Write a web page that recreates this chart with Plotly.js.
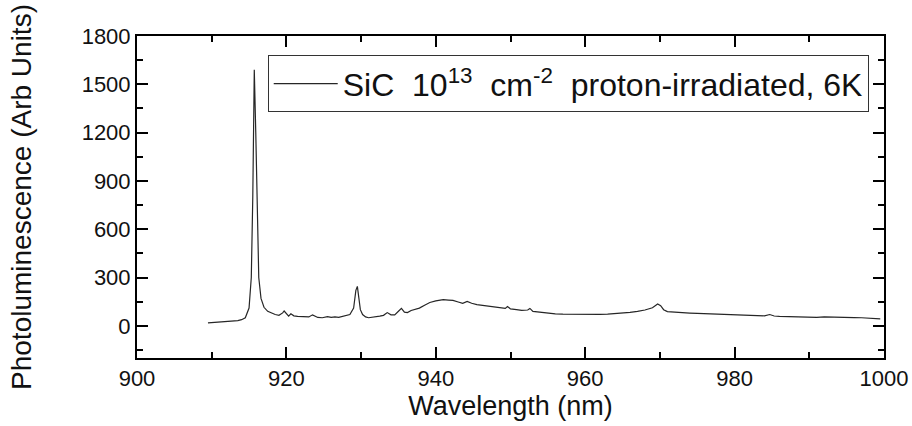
<!DOCTYPE html>
<html>
<head>
<meta charset="utf-8">
<script src="https://cdn.plot.ly/plotly-3.0.1.min.js"></script>
<style>html,body{margin:0;padding:0;background:#fff;}#chart{width:912px;height:426px;}</style>
</head>
<body>
<div id="chart"></div>
<script>
const wavelength = [
909.5,910,910.5,911,911.5,912,912.5,913,913.5,914,914.5,915,915.3,915.5,915.7,915.9,916.1,916.3,916.6,917,917.5,918,918.5,919,919.5,919.7,920,920.3,920.6,921,921.5,922,922.5,923,923.5,923.8,924.2,924.8,925.5,926,926.5,927,927.5,928,928.5,929,929.3,929.5,929.7,929.9,930.2,930.6,931,931.5,932,932.5,933,933.5,934,934.5,935,935.4,935.8,936.2,936.7,937.2,937.8,938.5,939.2,940,940.5,941,941.7,942.3,943,943.6,944.2,944.8,945.5,946.5,947.5,948.5,949.3,949.6,950,950.8,951.5,952.3,952.6,953,954,955,956,957,958,959,960,961,962,963,964,965,966,967,968,969,969.7,970.1,970.5,971,972,973,974,975,976,977,978,979,980,981,982,983,984,984.7,985.3,986,987,988,989,990,991,992,993,994,995,996,997,998,999,999.5
];
const intensity = [
18,20,22,21,24,25,26,28,32,38,50,110,300,800,1590,1200,600,300,170,115,90,78,70,65,80,92,72,60,75,62,58,57,52,55,68,60,52,50,57,52,55,53,58,62,70,110,220,245,180,100,70,55,50,52,55,60,65,82,68,68,90,108,85,82,95,102,110,128,145,155,160,162,160,158,148,140,152,140,132,126,120,113,108,120,105,100,96,98,108,90,84,76,74,72,71,70,69,70,71,73,76,80,84,90,98,112,135,125,100,88,84,82,79,77,75,74,72,70,68,66,65,63,62,70,61,58,56,55,56,53,52,55,53,52,52,51,50,48,45,43
];
const xTicks = [900,920,940,960,980,1000];
const yTicks = [0,300,600,900,1200,1500,1800];
const NB = '\u00A0';
const seriesName = 'SiC' + NB + ' 10<sup>13</sup>' + NB + ' cm<sup>-2</sup>' + NB + ' proton-irradiated, 6K';

const font = 'Arial, "Liberation Sans", sans-serif';
const trace = {
  x: wavelength, y: intensity, type: 'scatter', mode: 'lines',
  name: seriesName, line: {color: '#262626', width: 1.2}
};
const axisCommon = {
  showline: true, linecolor: '#000', linewidth: 2, mirror: 'ticks',
  ticks: 'inside', ticklen: 11, tickwidth: 2, tickcolor: '#000',
  showgrid: false, zeroline: false,
  tickfont: {family: font, size: 22, color: '#111'}
};
const layout = {
  width: 912, height: 426,
  margin: {l: 137, r: 28, t: 36, b: 68},
  paper_bgcolor: '#fff', plot_bgcolor: '#fff',
  font: {family: font, color: '#111'},
  showlegend: true,
  legend: {
    x: 0.175, y: 0.94, xanchor: 'left', yanchor: 'top',
    bgcolor: '#fff', bordercolor: '#333', borderwidth: 1,
    font: {family: font, size: 32, color: '#111'}, itemwidth: 64
  },
  xaxis: Object.assign({}, axisCommon, {
    range: [900, 1000], tickvals: xTicks, ticktext: xTicks.map(String),
    minor: {dtick: 10, ticks: 'inside', ticklen: 6, tickwidth: 2, tickcolor: '#000', showgrid: false},
    title: {text: 'Wavelength (nm)', font: {family: font, size: 27, color: '#111'}, standoff: 4}
  }),
  yaxis: Object.assign({}, axisCommon, {
    range: [-200, 1800], tickvals: yTicks, ticktext: yTicks.map(String),
    minor: {dtick: 150, ticks: 'inside', ticklen: 6, tickwidth: 2, tickcolor: '#000', showgrid: false},
    title: {text: 'Photoluminescence (Arb Units)', font: {family: font, size: 28, color: '#111'}, standoff: 42}
  })
};
Plotly.newPlot('chart', [trace], layout, {displayModeBar: false, staticPlot: true});
</script>
</body>
</html>
